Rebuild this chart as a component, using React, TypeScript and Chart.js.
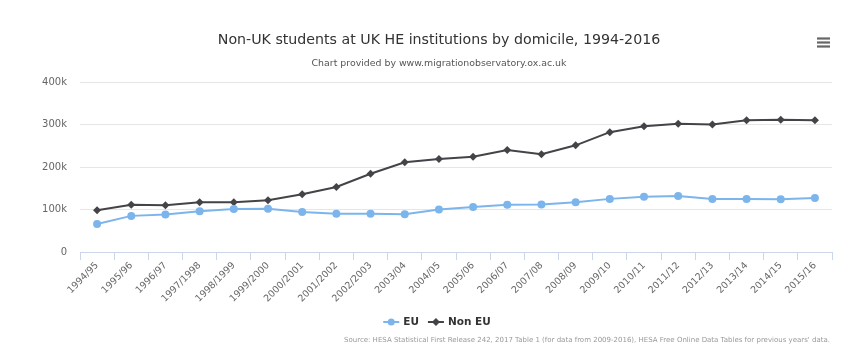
import React, { useEffect, useRef } from "react";
import { Chart, registerables } from "chart.js";

Chart.register(...registerables);

const categories = [
  "1994/95", "1995/96", "1996/97", "1997/1998", "1998/1999", "1999/2000",
  "2000/2001", "2001/2002", "2002/2003", "2003/04", "2004/05", "2005/06",
  "2006/07", "2007/08", "2008/09", "2009/10", "2010/11", "2011/12",
  "2012/13", "2013/14", "2014/15", "2015/16",
];
const euValues = [
  66000, 85000, 88000, 96000, 101000, 102000, 94000, 90000, 90000, 89000, 100000,
  106000, 111000, 112000, 117000, 125000, 130000, 132000, 125000, 125000, 124000, 127000,
];
const nonEuValues = [
  98000, 111000, 110000, 117000, 117000, 122000, 136000, 153000, 184000, 211000, 219000,
  224000, 240000, 230000, 251000, 282000, 296000, 302000, 300000, 310000, 311000, 310000,
];
const yTicks = [0, 100000, 200000, 300000, 400000];

const titleText = "Non-UK students at UK HE institutions by domicile, 1994-2016";
const subtitleText = "Chart provided by www.migrationobservatory.ox.ac.uk";
const sourceText =
  "Source: HESA Statistical First Release 242, 2017 Table 1 (for data from 2009-2016), HESA Free Online Data Tables for previous years' data.";

const FONT = '"DejaVu Sans", "Lucida Grande", Arial, sans-serif';
const EU_COLOR = "#7cb5ec";
const NON_EU_COLOR = "#434348";

const decorPlugin = {
  id: "decor",
  afterDraw(chart: any) {
    const ctx = chart.ctx as CanvasRenderingContext2D;
    ctx.save();
    // title
    ctx.fillStyle = "#333333";
    ctx.font = `14.2px ${FONT}`;
    ctx.textAlign = "center";
    ctx.textBaseline = "middle";
    ctx.fillText(titleText, 439, 40);
    // subtitle
    ctx.fillStyle = "#555555";
    ctx.font = `9.4px ${FONT}`;
    ctx.fillText(subtitleText, 439, 64);
    // menu icon
    ctx.strokeStyle = "#666666";
    ctx.lineWidth = 2.2;
    for (let i = 0; i < 3; i++) {
      const y = 38.5 + i * 4;
      ctx.beginPath();
      ctx.moveTo(817, y);
      ctx.lineTo(830, y);
      ctx.stroke();
    }
    // legend
    ctx.font = `bold 10.5px ${FONT}`;
    ctx.textAlign = "left";
    const items = [
      { label: "EU", color: EU_COLOR, style: "circle" },
      { label: "Non EU", color: NON_EU_COLOR, style: "diamond" },
    ];
    const symW = 16;
    const gap = 4;
    const itemGap = 9;
    let total = 0;
    items.forEach((it, i) => {
      total += symW + gap + ctx.measureText(it.label).width + (i < items.length - 1 ? itemGap : 0);
    });
    let x = 437 - total / 2;
    const ly = 322;
    items.forEach((it) => {
      ctx.strokeStyle = it.color;
      ctx.fillStyle = it.color;
      ctx.lineWidth = 2;
      ctx.beginPath();
      ctx.moveTo(x, ly);
      ctx.lineTo(x + symW, ly);
      ctx.stroke();
      const cx = x + symW / 2;
      ctx.beginPath();
      if (it.style === "circle") {
        ctx.arc(cx, ly, 3.5, 0, Math.PI * 2);
      } else {
        ctx.moveTo(cx, ly - 4);
        ctx.lineTo(cx + 4, ly);
        ctx.lineTo(cx, ly + 4);
        ctx.lineTo(cx - 4, ly);
        ctx.closePath();
      }
      ctx.fill();
      ctx.fillStyle = "#333333";
      ctx.fillText(it.label, x + symW + gap, ly);
      x += symW + gap + ctx.measureText(it.label).width + itemGap;
    });
    // source
    ctx.fillStyle = "#999999";
    ctx.font = `7px ${FONT}`;
    ctx.textAlign = "right";
    ctx.fillText(sourceText, 830, 340);
    ctx.restore();
  },
};

export default function App() {
  const ref = useRef<HTMLCanvasElement>(null);
  useEffect(() => {
    document.body.style.margin = "0";
    const canvas = ref.current!;
    const chart = new Chart(canvas, {
      type: "line",
      data: {
        labels: categories,
        datasets: [
          {
            label: "EU",
            data: euValues,
            borderColor: EU_COLOR,
            backgroundColor: EU_COLOR,
            borderWidth: 2,
            pointRadius: 4,
            pointStyle: "circle",
            pointBorderWidth: 0,
            tension: 0,
          },
          {
            label: "Non EU",
            data: nonEuValues,
            borderColor: NON_EU_COLOR,
            backgroundColor: NON_EU_COLOR,
            borderWidth: 2,
            pointRadius: 4,
            pointStyle: "rectRot",
            pointBorderWidth: 0,
            tension: 0,
          },
        ],
      },
      options: {
        responsive: false,
        animation: false,
        layout: { padding: { left: 0, right: 24, top: 82, bottom: 40 } },
        plugins: {
          legend: { display: false },
          title: { display: false },
          tooltip: { enabled: false },
        },
        scales: {
          x: {
            type: "category",
            offset: true,
            afterFit(scale: any) {
              scale.height = 60;
            },
            grid: {
              offset: true,
              drawOnChartArea: false,
              drawTicks: true,
              tickLength: 8,
              color: "#ccd6eb",
            },
            border: { color: "#ccd6eb", width: 1 },
            ticks: {
              autoSkip: false,
              maxRotation: 45,
              minRotation: 45,
              padding: 0,
              color: "#666666",
              font: { family: FONT, size: 9.5 },
            },
          },
          y: {
            min: 0,
            max: 400000,
            afterFit(scale: any) {
              scale.width = 80;
            },
            afterBuildTicks(scale: any) {
              scale.ticks = yTicks.map((v) => ({ value: v }));
            },
            grid: { color: "#e6e6e6", drawTicks: false },
            border: { display: false },
            ticks: {
              padding: 13,
              color: "#666666",
              font: { family: FONT, size: 10 },
              callback: (v: any) => (v === 0 ? "0" : `${Number(v) / 1000}k`),
            },
          },
        },
      },
      plugins: [decorPlugin],
    });
    return () => chart.destroy();
  }, []);
  return <canvas ref={ref} width={856} height={352} style={{ display: "block" }} />;
}
